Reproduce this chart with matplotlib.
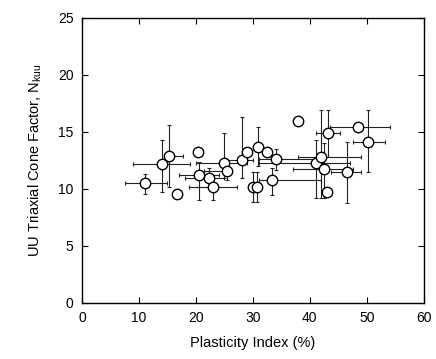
import matplotlib
matplotlib.use("Agg")
import matplotlib.pyplot as plt
import numpy as np

plt.rcParams['font.family'] = ['Liberation Sans', 'DejaVu Sans']

# Plasticity index (%) and N_kuu for each sample
pi_vals = [11.1, 14.0, 15.3, 16.7, 20.4, 20.5, 22.3, 23.0, 24.9, 25.4, 28.1, 29.0,
           30.9, 32.4, 34.0, 30.0, 30.7, 33.3, 41.0, 41.9, 42.5, 43.2, 48.4, 50.2,
           46.5, 43.0, 37.9]
nk_vals = [10.5, 12.2, 12.9, 9.6, 13.2, 11.2, 11.0, 10.2, 12.3, 11.6, 12.5, 13.2,
           13.7, 13.2, 12.6, 10.2, 10.2, 10.8, 12.3, 12.8, 11.75, 14.9, 15.4, 14.1,
           11.5, 9.7, 16.0]
# error bar ends (NaN = no bar)
nan = np.nan
pi_low = [7.5, 9.0, 14.5, nan, nan, 17.0, 18.0, 18.8, 20.0, 21.5, 25.4, nan,
          nan, nan, 31.0, nan, nan, 31.0, 31.0, 38.0, 37.0, 41.0, 43.5, 47.5,
          43.8, nan, nan]
pi_high = [15.0, 19.0, 17.7, nan, nan, 24.0, 25.0, 27.2, 29.0, 26.0, 30.0, nan,
           nan, nan, 41.0, nan, nan, 42.0, 47.0, 49.0, 47.5, 45.3, 54.0, 53.2,
           49.0, nan, nan]
nk_low = [9.6, 9.7, 10.2, nan, nan, 9.0, 10.2, 9.0, 11.0, 10.8, 11.0, nan,
          12.0, nan, 11.7, 8.9, 8.9, 9.5, 9.2, 9.2, 9.2, 12.8, nan, 11.5,
          8.8, nan, nan]
nk_high = [11.3, 14.3, 15.6, nan, nan, 12.4, 11.8, 11.2, 14.9, 12.4, 16.3, nan,
           15.4, nan, 13.5, 11.5, 11.5, 11.8, 14.3, 16.9, 14.0, 16.9, nan, 16.9,
           14.1, nan, nan]

x_ticks = [0, 10, 20, 30, 40, 50, 60]
y_ticks = [0, 5, 10, 15, 20, 25]

fig = plt.figure(figsize=(4.36, 3.59), dpi=100)
ax = fig.add_axes([0.188, 0.156, 0.784, 0.794])

x = np.array(pi_vals); y = np.array(nk_vals)
xl = np.nan_to_num(x - np.array(pi_low)); xh = np.nan_to_num(np.array(pi_high) - x)
yl = np.nan_to_num(y - np.array(nk_low)); yh = np.nan_to_num(np.array(nk_high) - y)

ax.errorbar(x, y, xerr=[xl, xh], yerr=[yl, yh], fmt='none', ecolor='#222222',
            elinewidth=0.8, capsize=1.5, capthick=0.8, zorder=2)
ax.plot(x, y, 'o', ms=7.5, mfc='white', mec='black', mew=1.0, zorder=3)

ax.set_xlim(0, 60)
ax.set_ylim(0, 25)
ax.set_xticks(x_ticks)
ax.set_yticks(y_ticks)
ax.tick_params(direction='in', top=True, right=True, length=4, width=0.8,
               labelsize=10, pad=6)
for s in ax.spines.values():
    s.set_linewidth(1.0)

ax.set_xlabel('Plasticity Index (%)', fontsize=10.5, labelpad=8)
ax.set_ylabel(r'UU Triaxial Cone Factor, N$_{\mathregular{kuu}}$', fontsize=10.5, labelpad=10)

fig.savefig('out.png', dpi=100)
